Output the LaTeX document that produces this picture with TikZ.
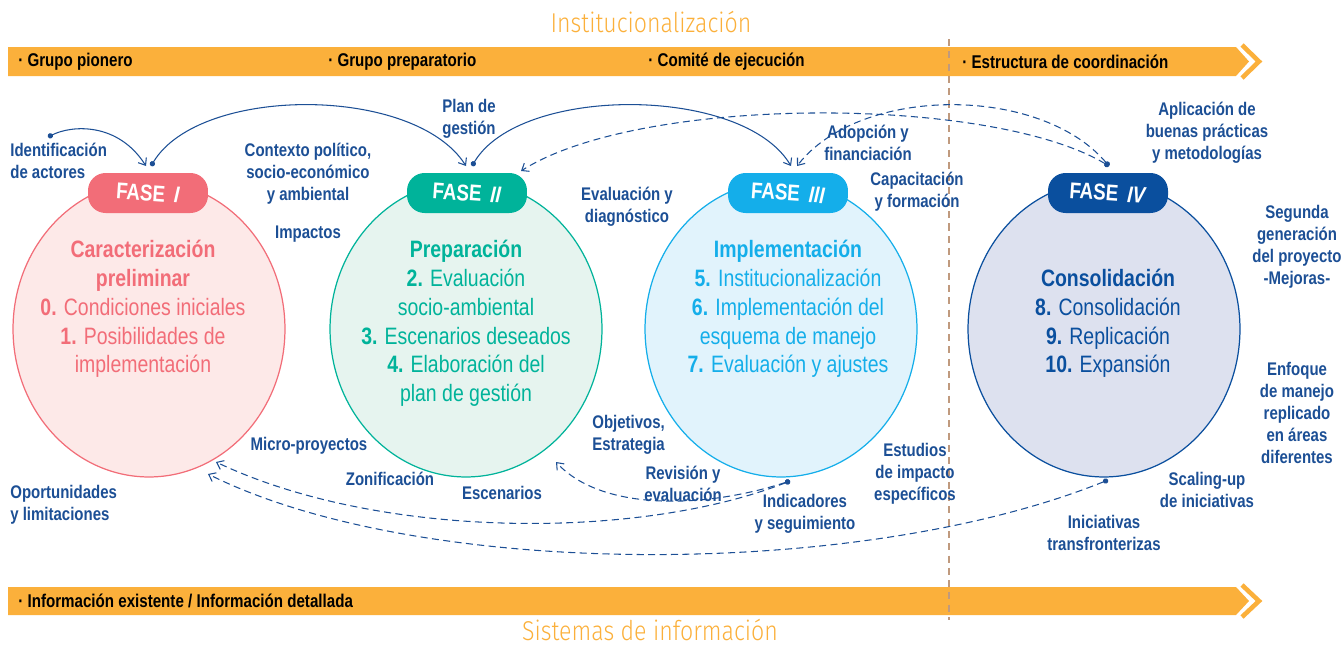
\documentclass[tikz,border=0pt]{standalone}
\usepackage{fontspec}
\setmainfont{Liberation Sans}[FakeStretch=0.82]
\newfontfamily\thinfont{Fira Sans Light}[FakeStretch=0.85]
\usepackage{tikz}
\usepackage{xcolor}
\usepackage{graphicx}
\usetikzlibrary{arrows.meta,shapes.geometric}

\definecolor{barorange}{HTML}{FBB03B}
\definecolor{labelblue}{HTML}{1C4F95}
\definecolor{sepbrown}{HTML}{C09A7E}
\definecolor{faseA}{HTML}{F26D78}
\definecolor{faseAbg}{HTML}{FDE9E8}
\definecolor{faseB}{HTML}{00B39A}
\definecolor{faseBbg}{HTML}{E6F4EF}
\definecolor{faseC}{HTML}{14AEEA}
\definecolor{faseCbg}{HTML}{E1F3FC}
\definecolor{faseD}{HTML}{0A4F9E}
\definecolor{faseDbg}{HTML}{DDE1EF}

\tikzset{
  lbl/.style={text=labelblue, font=\bfseries\fontsize{10.4}{12.5}\selectfont, align=center, inner sep=0pt},
  bartext/.style={anchor=west, font=\bfseries\fontsize{10.5}{12}\selectfont, text=black, inner sep=0pt},
  phase/.style={ellipse, minimum width=5.44cm, minimum height=5.92cm, line width=0.7pt},
  badge/.style={rounded corners=10pt, minimum width=2.4cm, minimum height=0.8cm, inner sep=0pt,
    text=white, font=\bfseries\fontsize{13}{14}\selectfont},
  body/.style={align=center, inner sep=0pt, font=\fontsize{13.5}{16.4}\selectfont},
  title/.style={text=barorange, inner sep=0pt, font=\thinfont\fontsize{15.5}{17}\selectfont},
  link/.style={labelblue, line width=0.6pt, {Circle[length=3pt]}-{Straight Barb[length=3.5pt,width=5.5pt]}},
  dlink/.style={link, dash pattern=on 4pt off 2.5pt}
}

\begin{document}
\begin{tikzpicture}[x=0.02cm, y=-0.02cm]
        \useasboundingbox (0,0) rectangle (1342,646);

        % bars
        \fill[barorange] (8,47) -- (1236,47) -- (1249,61.5) -- (1236,76) -- (8,76) -- cycle;
        \draw[barorange, line width=2.6pt] (1242,45) -- (1259,61.5) -- (1242,78);
        \fill[barorange] (8,587) -- (1236,587) -- (1249,601) -- (1236,615) -- (8,615) -- cycle;
        \draw[barorange, line width=2.6pt] (1242,585) -- (1259,601) -- (1242,617);

        \node[title] (tinst) at (651,22) {Institucionalización};
        \node[title] (tsis) at (650,630) {Sistemas de información};

        \node[bartext] (g1) at (18,61.5) {· Grupo pionero};
        \node[bartext] (g2) at (328,61.5) {· Grupo preparatorio};
        \node[bartext] (g3) at (648,61.5) {· Comité de ejecución};
        \node[bartext] (g4) at (962,61.5) {· Estructura de coordinación};
        \node[bartext] (g5) at (18,601) {· Información existente / Información detallada};

        \coordinate(st) at (949,39);
        \coordinate(sb) at (949,620);
        \draw[sepbrown, line width=1.2pt, dash pattern=on 4pt off 3pt] (st) -- (sb);

        % circles
        \node[phase, draw=faseA, fill=faseAbg] (c1) at (149,329) {};
        \node[phase, draw=faseB, fill=faseBbg] (c2) at (466,329) {};
        \node[phase, draw=faseC, fill=faseCbg] (c3) at (781,329) {};
        \node[phase, draw=faseD, fill=faseDbg] (c4) at (1104,329) {};

        \node[badge, fill=faseA] (b1) at (148,193) {\rotatebox{-4}{FASE\, \textit{I}}};
        \node[badge, fill=faseB] (b2) at (467,193) {\rotatebox{-4}{FASE\, \textit{II}}};
        \node[badge, fill=faseC] (b3) at (788,193) {\rotatebox{-4}{FASE\, \textit{III}}};
        \node[badge, fill=faseD] (b4) at (1108,193) {\rotatebox{-4}{FASE\, \textit{IV}}};

        \node[body, text=faseA] (t1) at (143,309) {\textbf{Caracterización}\\\textbf{preliminar}\\
          \textbf{0.} Condiciones iniciales\\\textbf{1.} Posibilidades de\\implementación};
        \node[body, text=faseB] (t2) at (466,323.5) {\textbf{Preparación}\\\textbf{2.} Evaluación\\
          socio-ambiental\\\textbf{3.} Escenarios deseados\\\textbf{4.} Elaboración del\\plan de gestión};
        \node[body, text=faseC] (t3) at (788,309) {\textbf{Implementación}\\\textbf{5.} Institucionalización\\
          \textbf{6.} Implementación del\\esquema de manejo\\\textbf{7.} Evaluación y ajustes};
        \node[body, text=faseD] (t4) at (1108,323.5) {\textbf{Consolidación}\\\textbf{8.} Consolidación\\
          \textbf{9.} Replicación\\\textbf{10.} Expansión};

        % labels
        \node[lbl, anchor=west, align=left] (lid) at (10,161) {Identificación\\de actores};
        \node[lbl] (lctx) at (308,174) {Contexto político,\\socio-económico\\y ambiental};
        \node[lbl] (limp) at (308,234) {Impactos};
        \node[lbl] (lplan) at (469,119) {Plan de\\gestión};
        \node[lbl] (leva) at (627,207) {Evaluación y\\diagnóstico};
        \node[lbl] (lado) at (868,142.5) {Adopción y\\financiación};
        \node[lbl] (lcap) at (917,192) {Capacitación\\y formación};
        \node[lbl] (lapl) at (1207,132.5) {Aplicación de\\buenas prácticas\\y metodologías};
        \node[lbl] (lseg) at (1297,247) {Segunda\\generación\\del proyecto\\-Mejoras-};
        \node[lbl] (lenf) at (1297,413) {Enfoque\\de manejo\\replicado\\en áreas\\diferentes};
        \node[lbl] (lmic) at (309,446) {Micro-proyectos};
        \node[lbl, anchor=west, align=left] (lopo) at (10,504.5) {Oportunidades\\y limitaciones};
        \node[lbl] (lzon) at (390,479) {Zonificación};
        \node[lbl] (lesc) at (502,493) {Escenarios};
        \node[lbl, anchor=west, align=left] (lobj) at (592,435) {Objetivos,\\Estrategia};
        \node[lbl] (lrev) at (683,483.5) {Revisión y\\evaluación};
        \node[lbl] (lind) at (805,514) {Indicadores\\y seguimiento};
        \node[lbl] (lest) at (915,474) {Estudios\\de impacto\\específicos};
        \node[lbl] (lsca) at (1207,490) {Scaling-up\\de iniciativas};
        \node[lbl] (lini) at (1104,533) {Iniciativas\\transfronterizas};

        % connectors
        \coordinate(idot) at (48,137);
        \coordinate(a1) at (146,166);
        \coordinate(d1) at (151,166);
        \coordinate(a2) at (466,166);
        \coordinate(d2) at (472,166);
        \coordinate(a3) at (791,166);
        \coordinate(a3b) at (797,166);
        \coordinate(a2b) at (521,171);
        \coordinate(d4) at (1109,166);
        \coordinate(d3s) at (790,481);
        \coordinate(d4s) at (1108,480);
        \coordinate(e1) at (216,462);
        \coordinate(e1b) at (208,474);
        \coordinate(e2) at (556,462);

        \draw[link] (idot) .. controls (72,125) and (118,122) .. (a1);
        \draw[link] (d1) .. controls (200,85) and (415,85) .. (a2);
        \draw[link] (d2) .. controls (520,85) and (743,85) .. (a3);
        \draw[dlink] (d4) .. controls (1040,85) and (860,85) .. (a3b);
        \draw[dlink] (d4) .. controls (990,95) and (640,95) .. (a2b);
        \draw[dlink] (d3s) .. controls (640,540) and (380,540) .. (e1);
        \draw[dlink] (d3s) .. controls (700,510) and (600,510) .. (e2);
        \draw[dlink] (d4s) .. controls (860,580) and (420,580) .. (e1b);

    \end{tikzpicture}
\end{document}
